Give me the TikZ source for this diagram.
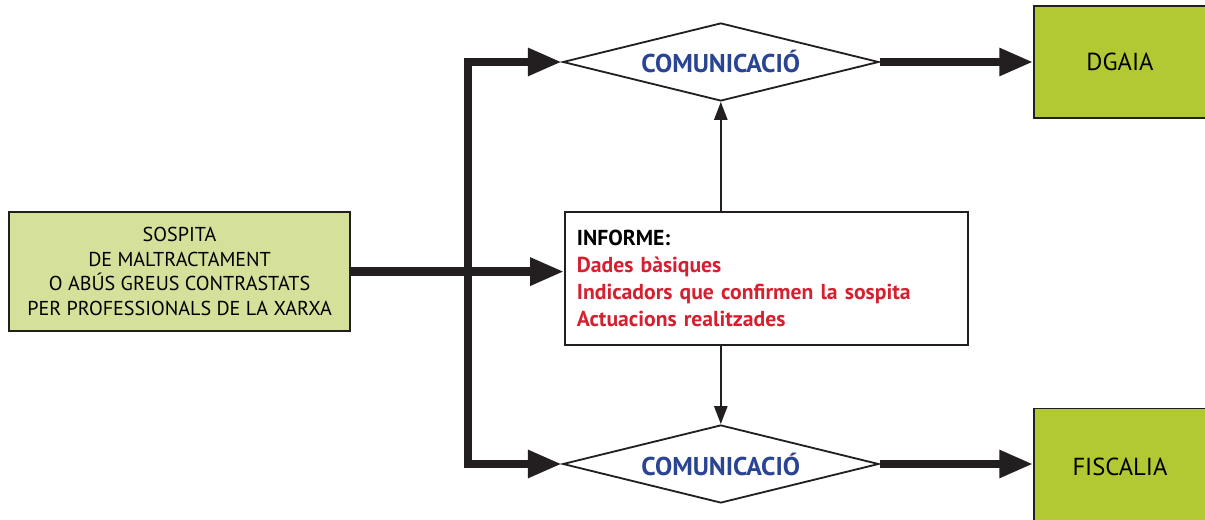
\documentclass[tikz,border=0pt]{standalone}
\usepackage{fontspec}
\setmainfont{PT Sans}
\usetikzlibrary{shapes.geometric,arrows.meta}
\definecolor{linia}{HTML}{231F20}
\definecolor{verdclar}{HTML}{D5E09A}
\definecolor{verdfort}{HTML}{B2C934}
\definecolor{blau}{HTML}{2A4494}
\definecolor{vermell}{HTML}{D42030}
\begin{document}
\begin{tikzpicture}[
    caixa/.style={draw=linia,line width=1pt,align=center,inner sep=0pt},
    rombe/.style={diamond,draw=linia,line width=1.3pt,fill=white,aspect=3.95,inner sep=0pt,
        minimum width=7.9cm,minimum height=1.95cm,font=\bfseries\fontsize{18.3}{21}\selectfont,text=blau},
    gruixuda/.style={line width=6pt,draw=linia,-{Triangle[length=0.85cm,width=0.65cm]}},
    prima/.style={line width=1.4pt,draw=linia,-{Triangle[length=0.45cm,width=0.33cm]}}
]
    \path[use as bounding box,fill=white] (0,0) rectangle (30.125,13);

    % Caixes %
    \node[caixa,fill=verdclar,minimum width=8.525cm,minimum height=2.975cm,
        font=\fontsize{14.3}{17.5}\selectfont] (sospita) at (4.49,6.21)
        {SOSPITA\\DE MALTRACTAMENT\\O ABÚS GREUS CONTRASTATS\\PER PROFESSIONALS DE LA XARXA};
    \node[caixa,fill=white,minimum width=10.075cm,minimum height=3.325cm,text width=9.475cm,
        inner xsep=0.3cm,align=left,font=\bfseries\fontsize{15.4}{19}\selectfont] (informe) at (19.16,6.04)
        {INFORME:\\\textcolor{vermell}{Dades bàsiques}\\\textcolor{vermell}{Indicadors que confirmen la sospita}\\\textcolor{vermell}{Actuacions realitzades}};
    \node[rombe] (com1) at (18.02,11.45) {COMUNICACIÓ};
    \node[rombe] (com2) at (18.02,1.4) {COMUNICACIÓ};
    \node[caixa,fill=verdfort,minimum width=4.3cm,minimum height=2.8cm,
        font=\fontsize{17.5}{20}\selectfont] (dgaia) at (28.0,11.45) {DGAIA};
    \node[caixa,fill=verdfort,minimum width=4.3cm,minimum height=2.9cm,
        font=\fontsize{17.5}{20}\selectfont] (fiscalia) at (28.0,1.33) {FISCALIA};

    % Fletxes %
    \coordinate (jt) at (11.7,11.45);
    \coordinate (jb) at (11.7,1.4);
    \draw[gruixuda,{Triangle[length=0.85cm,width=0.65cm]}-{Triangle[length=0.85cm,width=0.65cm]}]
        (com1.west) -- (jt) -- (jb) -- (com2.west);
    \draw[gruixuda] (sospita.east) -- (sospita.east -| informe.west);
    \draw[gruixuda] (com1.east) -- (dgaia.west);
    \draw[gruixuda] (com2.east) -- (com2.east -| fiscalia.west);
    \draw[prima] (com1.south |- informe.north) -- (com1.south);
    \draw[prima] (com2.north |- informe.south) -- (com2.north);
\end{tikzpicture}
\end{document}
